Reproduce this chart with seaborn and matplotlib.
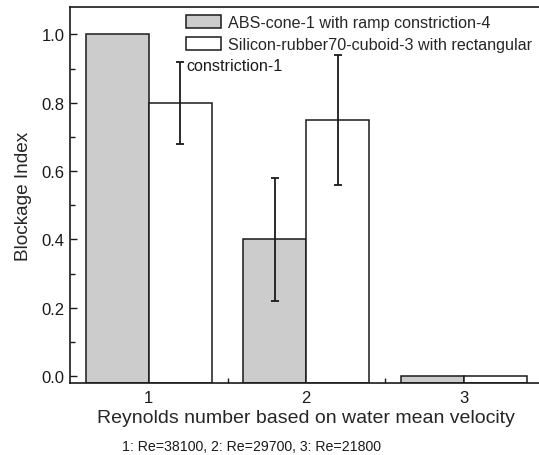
import matplotlib
matplotlib.use("Agg")
import matplotlib.pyplot as plt
from matplotlib.ticker import MultipleLocator, FixedLocator
from matplotlib.patches import Patch
import seaborn as sns
import pandas as pd
import numpy as np

# ---- data ----
categories = ["1", "2", "3"]
series_a = "ABS-cone-1 with ramp constriction-4"
series_b = "Silicon-rubber70-cuboid-3 with rectangular constriction-1"
values_a = [1.0, 0.4, 0.0]
errors_a = [0.0, 0.18, 0.0]
values_b = [0.8, 0.75, 0.0]
errors_b = [0.12, 0.19, 0.0]
xlabel = "Reynolds number based on water mean velocity"
ylabel = "Blockage Index"
note = "1: Re=38100, 2: Re=29700, 3: Re=21800"

df = pd.DataFrame({
    "cat": categories * 2,
    "series": [series_a] * 3 + [series_b] * 3,
    "value": values_a + values_b,
})

sns.set_style("ticks")
plt.rcParams["font.family"] = ["Liberation Sans", "DejaVu Sans"]

fig = plt.figure(figsize=(5.39, 4.56), dpi=100)
ax = fig.add_axes([70 / 539, 72 / 456, 472.5 / 539, 376 / 456])

palette = {series_a: "#cccccc", series_b: "white"}
sns.barplot(data=df, x="cat", y="value", hue="series", order=categories,
            hue_order=[series_a, series_b], palette=palette, errorbar=None,
            edgecolor="#1a1a1a", linewidth=1.1, width=0.8, legend=False, ax=ax)

ybot, ytop = -0.02, 1.08
ax.set_ylim(ybot, ytop)
ax.set_xlim(-0.5, 2.5)

# Origin-style bars drawn from the axis floor
for p in ax.patches:
    top = p.get_y() + p.get_height()
    p.set_y(ybot)
    p.set_height(top - ybot)

# error bars at bar centres
bars = list(ax.patches)
vals = values_a + values_b
errs = errors_a + errors_b
for p, v, e in zip(bars, vals, errs):
    if e > 0:
        ax.errorbar(p.get_x() + p.get_width() / 2, v, yerr=e, color="#1a1a1a",
                    elinewidth=1.3, capsize=2.7, capthick=1.3, fmt="none", zorder=5)

# axes styling
for s in ["left", "bottom", "top", "right"]:
    ax.spines[s].set_visible(True)
    ax.spines[s].set_linewidth(1.2)
    ax.spines[s].set_color("#1a1a1a")

ax.set_yticks([0.0, 0.2, 0.4, 0.6, 0.8, 1.0])
ax.set_yticklabels(["0.0", "0.2", "0.4", "0.6", "0.8", "1.0"])
ax.yaxis.set_minor_locator(MultipleLocator(0.1))
ax.xaxis.set_minor_locator(FixedLocator([0.5, 1.5]))
ax.tick_params(axis="both", which="major", direction="in", length=5, width=1.0,
               labelsize=12, colors="#1a1a1a", top=False, right=False)
ax.tick_params(axis="both", which="minor", direction="in", length=3.5, width=1.0,
               top=False, right=False, colors="#1a1a1a")
ax.tick_params(axis="x", which="major", length=0, pad=5)
ax.tick_params(axis="y", which="major", pad=4)

ax.set_xlabel(xlabel, fontsize=14, labelpad=3)
ax.set_ylabel(ylabel, fontsize=13.7, labelpad=7)

handles = [Patch(facecolor="#cccccc", edgecolor="#1a1a1a", linewidth=1.1),
           Patch(facecolor="white", edgecolor="#1a1a1a", linewidth=1.1)]
labels = [series_a, "Silicon-rubber70-cuboid-3 with rectangular"]
leg = ax.legend(handles, labels, loc="upper left",
                bbox_to_anchor=(186 / 539, (456 - 16) / 456),
                bbox_transform=fig.transFigure,
                frameon=False, fontsize=11.6, handlelength=2.2, handleheight=0.85,
                handletextpad=0.38, labelspacing=0.45, borderaxespad=0.0,
                borderpad=0.0)
ax.text(186 / 539, (456 - 71) / 456, "constriction-1", transform=fig.transFigure,
        fontsize=11.6, va="baseline", ha="left", color="#1a1a1a")

fig.text(122 / 539, (456 - 447) / 456, note, fontsize=10.2, va="center",
         ha="left", color="#1a1a1a")

fig.savefig("out.png", dpi=100)
